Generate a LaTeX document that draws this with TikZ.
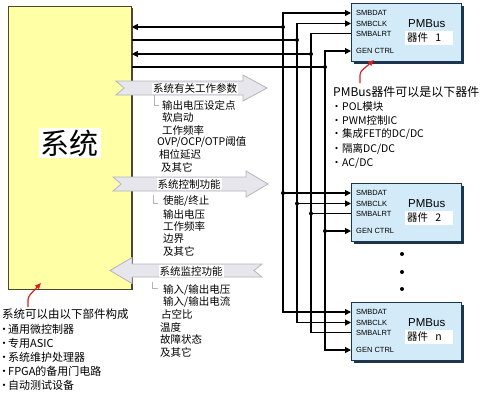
\documentclass[tikz,border=0pt]{standalone}
\usepackage{fontspec}
\setmainfont{Noto Sans CJK SC}
\newfontfamily\arialf{Liberation Sans}
\usetikzlibrary{arrows.meta,calc}
\definecolor{sysfill}{HTML}{FFFFA6}
\definecolor{sysedge}{HTML}{4A4630}
\definecolor{devfill}{HTML}{D3EBF9}
\definecolor{devedge}{HTML}{1E3550}
\definecolor{arrfill}{HTML}{E6E6EC}
\definecolor{arredge}{HTML}{B4B4BC}
\definecolor{redarr}{HTML}{E01E1E}
\newcommand{\bul}{\makebox[8pt][c]{•}}
\newcommand{\bulr}{\makebox[7pt][c]{•}\hspace{2pt}}
\begin{document}
\begin{tikzpicture}[x=1pt,y=-1pt,
  bus/.style={line width=1.1pt,black},
  tipA/.tip={Triangle[length=6pt,width=6pt]},
  inarrow/.style={bus,-tipA},
  jdot/.style={circle,fill=black,inner sep=0pt,minimum size=4pt},
  port/.style={font=\arialf\fontsize{7.5}{8}\selectfont,anchor=west,inner sep=0pt},
  pmb/.style={font=\arialf\fontsize{11.5}{12}\selectfont,anchor=west,inner sep=0pt},
  devname/.style={fill=white,text width=44pt,minimum height=13pt,inner sep=2pt,align=left,font=\fontsize{10.5}{11}\selectfont},
  devbox/.style={draw=devedge,fill=devfill,line width=0.8pt,minimum width=110pt,minimum height=58pt,anchor=north west,inner sep=0pt},
  item/.style={font=\fontsize{10.5}{12}\selectfont,anchor=west,inner sep=0pt},
  biglist/.style={font=\fontsize{11}{12}\selectfont,anchor=west,inner sep=0pt},
  arrlabel/.style={fill=white,inner sep=1pt,font=\fontsize{10.5}{12}\selectfont},
  bigarrow/.style={fill=arrfill,draw=arredge,line width=0.8pt},
  brk/.style={draw=arredge,line width=0.8pt},
  redline/.style={draw=redarr,line width=1.2pt,-{Triangle[length=6pt,width=5pt]},rounded corners=3pt}
]
\useasboundingbox (0,0) rectangle (480,392);

% ---------- system box ----------
\fill[sysedge] (10,8) rectangle (133,290);
\node[draw=sysedge,fill=sysfill,line width=0.8pt,minimum width=123pt,minimum height=283pt,anchor=north west,inner sep=0pt] (sys) at (8,6) {};
\node[fill=white,inner sep=2pt,font=\fontsize{29}{30}\selectfont] (systxt) at (70,143) {系统};

% ---------- devices ----------
\foreach \n/\t/\lab in {d1/3/1,d2/183/2,dn/302/n}{
  \fill[devedge] (353.5,\t+2.5) rectangle (463.5,\t+60.5);
  \node[devbox] (\n) at (351,\t) {};
  \node[port] (\n l1) at (356,\t+10) {SMBDAT};
  \node[port] (\n l2) at (356,\t+20.5) {SMBCLK};
  \node[port] (\n l3) at (356,\t+30.5) {SMBALRT};
  \node[port] (\n l4) at (356,\t+48) {GEN CTRL};
  \node[pmb] (\n p) at (408,\t+20.5) {PMBus};
  \node[devname] (\n name) at (429,\t+35) {器件\hspace{0.7em}\lab};
  \coordinate (\n pa) at (351,\t+10);
  \coordinate (\n pb) at (351,\t+20.5);
  \coordinate (\n pc) at (351,\t+30.5);
  \coordinate (\n pd) at (351,\t+48);
}

% ---------- bus lines ----------
\coordinate (c1t) at (283,13);   \coordinate (c1b) at (283,312);
\coordinate (c2t) at (297,23.5); \coordinate (c2b) at (297,322.5);
\coordinate (c3t) at (311,33.5); \coordinate (c3b) at (311,332.5);
\coordinate (c4t) at (325,51);   \coordinate (c4b) at (325,350);
\draw[bus,tipA-tipA] (d1pa) -- (c1t) -- (c1b) -- (dnpa);
\draw[bus,tipA-tipA] (d1pb) -- (c2t) -- (c2b) -- (dnpb);
\draw[bus] (d1pc) -- (c3t) -- (c3b) -- (dnpc);
\draw[bus,tipA-tipA] (d1pd) -- (c4t) -- (c4b) -- (dnpd);

% system connections
\coordinate (s1) at (283,27);
\coordinate (s2) at (297,40);
\coordinate (s3) at (311,54);
\coordinate (s4) at (325,67);
\draw[inarrow] (s1) -- (sys.east |- s1);
\draw[bus] (s2) -- (sys.east |- s2);
\draw[inarrow] (s3) -- (sys.east |- s3);
\draw[bus] (s4) -- (sys.east |- s4);
\foreach \c in {s1,s2,s3,s4} \node[jdot] (dot\c) at (\c) {};

% device 2 branches
\coordinate (b1) at (283,193);
\coordinate (b2) at (297,203.5);
\coordinate (b3) at (311,213.5);
\coordinate (b4) at (325,231);
\draw[inarrow] (b1) -- (d2pa);
\draw[inarrow] (b2) -- (d2pb);
\draw[bus] (b3) -- (d2pc);
\draw[inarrow] (b4) -- (d2pd);
\foreach \c in {b1,b2,b3,b4} \node[jdot] (dot\c) at (\c) {};

% ellipsis dots
\node[jdot] (e1) at (402,254) {};
\node[jdot] (e2) at (402,272) {};
\node[jdot] (e3) at (402,289) {};

% ---------- big arrows ----------
\path[bigarrow] (116,81) -- (243,81) -- (243,75) -- (267,88) -- (243,101) -- (243,95) -- (116,95) -- (124,88) -- cycle;
\path[bigarrow] (113,177) -- (246,177) -- (246,171) -- (268,184) -- (246,197) -- (246,191) -- (113,191) -- (121,184) -- cycle;
\path[bigarrow] (110,270.5) -- (132,257.5) -- (132,264) -- (262,264) -- (254,270.5) -- (262,277) -- (132,277) -- (132,283.5) -- cycle;
\node[arrlabel] (a1) at (195,88.5) {系统有关工作参数};
\node[arrlabel] (a2) at (189,184) {系统控制功能};
\node[arrlabel] (a3) at (191,271) {系统监控功能};

% sub lists
\draw[brk] (154,95) |- (159,105);
\node[item] (i11) at (162,105) {输出电压设定点};
\node[item] (i12) at (162,118) {软启动};
\node[item] (i13) at (162,130) {工作频率};
\node[item] (i14) at (157,142) {OVP/OCP/OTP阈值};
\node[item] (i15) at (159,155) {相位延迟};
\node[item] (i16) at (161,167) {及其它};

\draw[brk] (153,195) |- (158,203);
\node[item] (i21) at (163,201.5) {使能/终止};
\node[item] (i22) at (163,214) {输出电压};
\node[item] (i23) at (163,226.5) {工作频率};
\node[item] (i24) at (163,239) {边界};
\node[item] (i25) at (163,251.5) {及其它};

\draw[brk] (152,282) |- (158,288);
\node[item] (i31) at (163,290) {输入/输出电压};
\node[item] (i32) at (163,302) {输入/输出电流};
\node[item] (i33) at (161,314.5) {占空比};
\node[item] (i34) at (160,327) {温度};
\node[item] (i35) at (160,339.5) {故障状态};
\node[item] (i36) at (160,352) {及其它};

% ---------- left notes ----------
\node[biglist,font=\fontsize{11.5}{12}\selectfont] (lt) at (2,314) {系统可以由以下部件构成};
\node[biglist] (l1) at (0,329) {\bul 通用微控制器};
\node[biglist] (l2) at (0,343) {\bul 专用ASIC};
\node[biglist] (l3) at (0,357) {\bul 系统维护处理器};
\node[biglist] (l4) at (0,371) {\bul FPGA的备用门电路};
\node[biglist] (l5) at (0,385) {\bul 自动测试设备};
\coordinate (r1s) at (28,307);
\coordinate (r1m) at (28,297);
\coordinate (r1e) at (41,283);
\draw[redline] (r1s) -- (r1m) -- (r1e);

% ---------- right notes ----------
\node[biglist,font=\fontsize{12}{13}\selectfont] (rt) at (333,92) {PMBus器件可以是以下器件};
\node[item] (r1) at (333,106.5) {\bulr POL模块};
\node[item] (r2) at (333,120) {\bulr PWM控制IC};
\node[item] (r3) at (333,134) {\bulr 集成FET的DC/DC};
\node[item] (r4) at (333,148.5) {\bulr 隔离DC/DC};
\node[item] (r5) at (333,163) {\bulr AC/DC};
\coordinate (r2s) at (360,83);
\coordinate (r2m) at (360,72);
\coordinate (r2e) at (374,60);
\draw[redline] (r2s) -- (r2m) -- (r2e);
\end{tikzpicture}
\end{document}
